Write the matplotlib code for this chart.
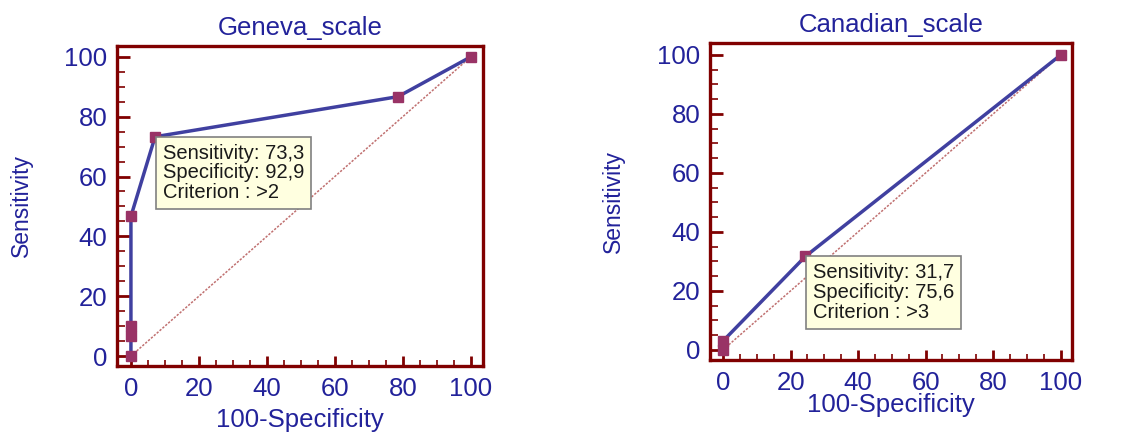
import matplotlib
matplotlib.use("Agg")
import matplotlib.pyplot as plt
from matplotlib.ticker import MultipleLocator

plt.rcParams["font.family"] = ["Liberation Sans", "DejaVu Sans"]

# ROC points (x = 100-Specificity, y = Sensitivity)
geneva_fpr  = [0, 0, 0, 0, 7.1, 78.6, 100]
geneva_sens = [0, 6.7, 10.0, 46.7, 73.3, 86.7, 100]
canada_fpr  = [0, 0, 24.4, 100]
canada_sens = [0, 3.0, 31.7, 100]

titles = ["Geneva_scale", "Canadian_scale"]
notes = [
    (7.1, 73.3, "Sensitivity: 73,3\nSpecificity: 92,9\nCriterion : >2"),
    (24.4, 31.7, "Sensitivity: 31,7\nSpecificity: 75,6\nCriterion : >3"),
]

FRAME = "#800000"
LINE = "#4040a0"
MARK = "#993366"
TXT = "#22229a"

fig = plt.figure(figsize=(11.25, 4.32), dpi=100)
ax1 = fig.add_axes([0.104, 0.153, 0.325, 0.741])
ax2 = fig.add_axes([0.631, 0.167, 0.322, 0.733])

panels = [
    (ax1, geneva_fpr, geneva_sens, (-4.1, 103.5), (-3.3, 103.7), (-0.26, -0.17)),
    (ax2, canada_fpr, canada_sens, (-3.9, 103.4), (-3.4, 104.0), (-0.267, -0.142)),
]

for i, (ax, x, y, xl, yl, (ylx, xly)) in enumerate(panels):
    ax.plot([0, 100], [0, 100], color="#c07070", lw=1.1, ls=(0, (1.5, 1)), zorder=1)
    ax.plot(x, y, color=LINE, lw=2.5, zorder=2)
    ax.plot(x, y, ls="none", marker="s", ms=6.5, color=MARK, zorder=3)

    ax.set_xlim(*xl)
    ax.set_ylim(*yl)
    ax.xaxis.set_major_locator(MultipleLocator(20))
    ax.yaxis.set_major_locator(MultipleLocator(20))
    ax.xaxis.set_minor_locator(MultipleLocator(5))
    ax.yaxis.set_minor_locator(MultipleLocator(5))

    for s in ax.spines.values():
        s.set_color(FRAME)
        s.set_linewidth(2.4)

    ax.tick_params(axis="both", which="both", direction="in", color=FRAME,
                   labelcolor=TXT, labelsize=18.5)
    ax.tick_params(axis="y", which="major", length=9, width=2, pad=7)
    ax.tick_params(axis="y", which="minor", length=6, width=1.2)
    ax.tick_params(axis="x", which="major", length=7, width=2, pad=8)
    ax.tick_params(axis="x", which="minor", length=4, width=1.2)

    ax.set_title(titles[i], color=TXT, fontsize=18.5, pad=8)
    ax.set_xlabel("100-Specificity", color=TXT, fontsize=18.5)
    ax.set_ylabel("Sensitivity", color=TXT, fontsize=16.5)
    ax.xaxis.set_label_coords(0.5, xly)
    ax.yaxis.set_label_coords(ylx, 0.5)
    ax.xaxis.label.set_va("center")
    ax.yaxis.label.set_va("center")

    px, py, txt = notes[i]
    ax.annotate(txt, xy=(px, py), xytext=(5.5, -5), textcoords="offset points",
                ha="left", va="top", fontsize=14.5, linespacing=1.05,
                color="#1a1a1a", zorder=5,
                bbox=dict(boxstyle="square,pad=0.35", fc="#ffffe0", ec="#808080", lw=1.2))

fig.savefig("out.png", dpi=100)
